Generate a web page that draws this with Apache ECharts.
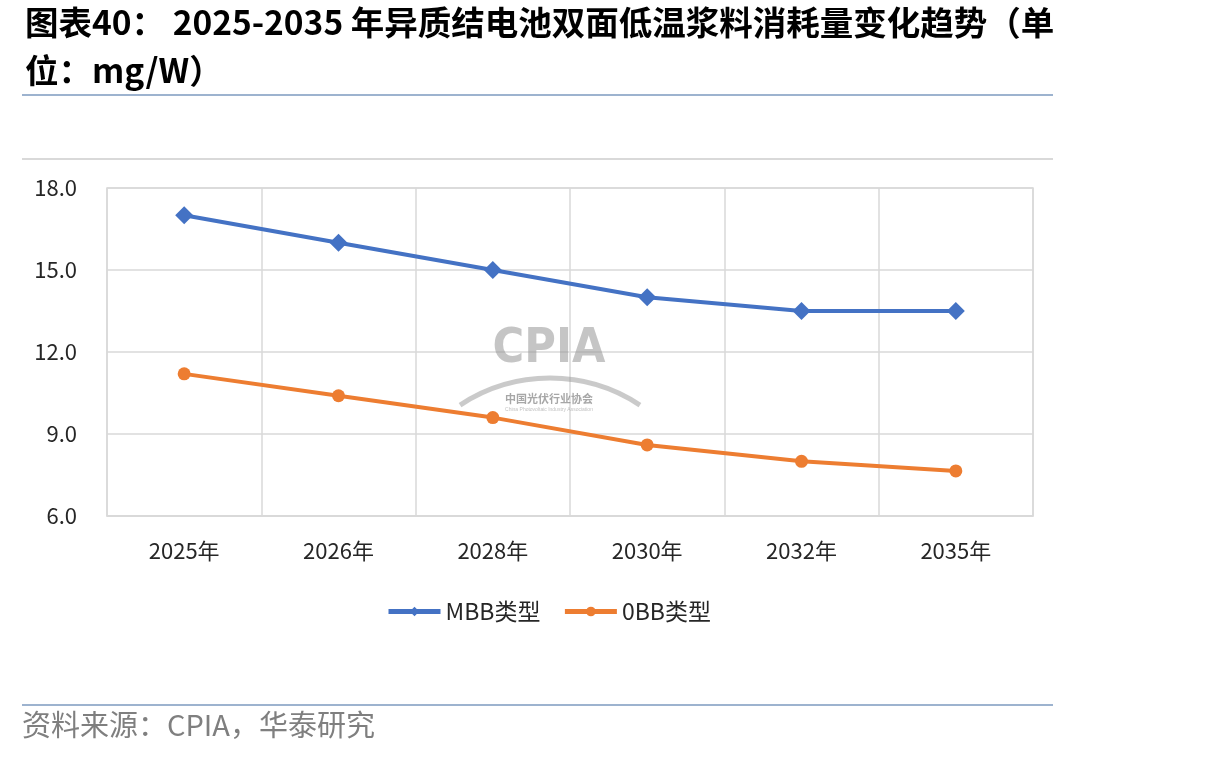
<!DOCTYPE html>
<html>
<head>
<meta charset="utf-8">
<script src="https://cdn.jsdelivr.net/npm/echarts@6/dist/echarts.min.js"></script>
<style>
html,body{margin:0;padding:0;background:#fff;}
#c{width:1206px;height:759px;}
</style>
</head>
<body>
<div id="c"></div>
<script>
const categories = ['2025年','2026年','2028年','2030年','2032年','2035年'];
const mbbValues = [17.0, 16.0, 15.0, 14.0, 13.5, 13.5];
const obbValues = [11.2, 10.4, 9.6, 8.6, 8.0, 7.65];
const seriesNames = ['MBB类型', '0BB类型'];
const yTicks = {min: 6, max: 18, interval: 3};
const titleText = '图表40： 2025-2035 年异质结电池双面低温浆料消耗量变化趋势（单\n位：mg/W）';
const sourceText = '资料来源：CPIA，华泰研究';

const chart = echarts.init(document.getElementById('c'));
const cjk = '"Noto Sans CJK SC", "Noto Sans", sans-serif';
chart.setOption({
  backgroundColor: '#fff',
  animation: false,
  title: {
    text: titleText,
    left: 20, top: -7,
    textStyle: {fontFamily: cjk, fontWeight: 'bold', fontSize: 33.5, color: '#000', lineHeight: 48}
  },
  grid: {left: 107, right: 173, top: 188, bottom: 243, show: true, borderColor: '#d9d9d9', borderWidth: 1.5},
  xAxis: {
    type: 'category',
    data: categories,
    boundaryGap: true,
    axisLine: {lineStyle: {color: '#d9d9d9', width: 1.5}},
    axisTick: {show: false},
    splitLine: {show: true, lineStyle: {color: '#d9d9d9', width: 1.5}},
    axisLabel: {fontFamily: cjk, fontSize: 22, color: '#262626', margin: 24}
  },
  yAxis: {
    type: 'value',
    min: yTicks.min, max: yTicks.max, interval: yTicks.interval,
    axisLine: {show: false},
    axisTick: {show: false},
    splitLine: {lineStyle: {color: '#d9d9d9', width: 1.5}},
    axisLabel: {fontFamily: cjk, fontSize: 22, color: '#262626', margin: 30,
      formatter: v => v.toFixed(1)}
  },
  legend: {
    data: seriesNames,
    left: 381, top: 595,
    itemWidth: 52, itemHeight: 12, itemGap: 22,
    lineStyle: {width: 5},
    textStyle: {fontFamily: cjk, fontSize: 23, color: '#262626'}
  },
  graphic: [
    {type: 'line', shape: {x1: 22, y1: 95, x2: 1053, y2: 95}, style: {stroke: '#9db3cf', lineWidth: 2}},
    {type: 'line', shape: {x1: 22, y1: 159, x2: 1053, y2: 159}, style: {stroke: '#d9d9d9', lineWidth: 2}},
    {type: 'line', shape: {x1: 22, y1: 705, x2: 1053, y2: 705}, style: {stroke: '#9db3cf', lineWidth: 2}},
    {type: 'text', left: 22, top: 710, style: {text: sourceText, font: '29px "Noto Sans CJK SC", sans-serif', fill: '#7f7f7f'}},
    {type: 'text', x: 549, y: 350, z: 1, style: {text: 'CPIA', font: 'bold 48px "Liberation Sans Narrow", "DejaVu Sans Condensed", sans-serif', fill: 'rgba(150,150,150,0.55)', align: 'center', verticalAlign: 'middle'}},
    {type: 'arc', z: 1, shape: {cx: 550, cy: 541, r: 163, startAngle: Math.PI * 1.314, endAngle: Math.PI * 1.686}, style: {stroke: 'rgba(150,150,150,0.5)', lineWidth: 5, fill: null}},
    {type: 'text', x: 549, y: 399, z: 1, style: {text: '中国光伏行业协会', font: 'bold 11px "Noto Sans CJK SC", sans-serif', fill: 'rgba(130,130,130,0.7)', align: 'center', verticalAlign: 'middle'}},
    {type: 'text', x: 549, y: 410, z: 1, style: {text: 'China Photovoltaic Industry Association', font: '5px sans-serif', fill: 'rgba(150,150,150,0.6)', align: 'center', verticalAlign: 'middle'}}
  ],
  series: [
    {name: seriesNames[0], type: 'line', data: mbbValues, z: 3,
      symbol: 'diamond', symbolSize: 18,
      lineStyle: {color: '#4472C4', width: 4},
      itemStyle: {color: '#4472C4'}},
    {name: seriesNames[1], type: 'line', data: obbValues, z: 3,
      symbol: 'circle', symbolSize: 13,
      lineStyle: {color: '#ED7D31', width: 4},
      itemStyle: {color: '#ED7D31'}}
  ]
});
</script>
</body>
</html>
